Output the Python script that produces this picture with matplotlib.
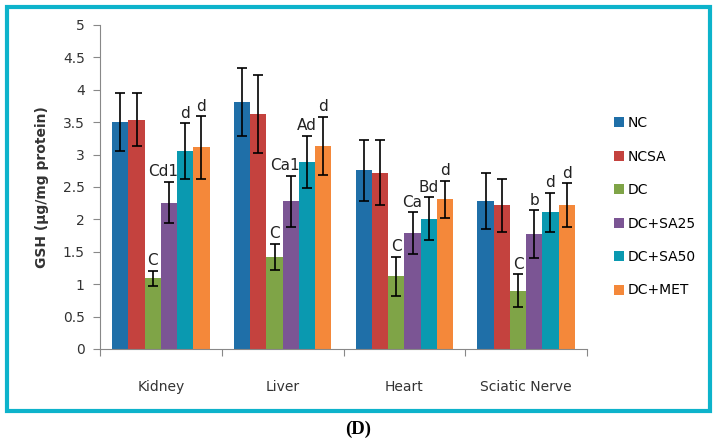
import matplotlib
matplotlib.use("Agg")
import matplotlib.pyplot as plt
import numpy as np
from matplotlib.patches import Rectangle

categories = ["Kidney", "Liver", "Heart", "Sciatic Nerve"]
series = ["NC", "NCSA", "DC", "DC+SA25", "DC+SA50", "DC+MET"]
values = {
    "NC":      [3.50, 3.81, 2.76, 2.28],
    "NCSA":    [3.54, 3.63, 2.72, 2.22],
    "DC":      [1.09, 1.42, 1.12, 0.90],
    "DC+SA25": [2.26, 2.28, 1.79, 1.77],
    "DC+SA50": [3.05, 2.89, 2.01, 2.11],
    "DC+MET":  [3.11, 3.13, 2.31, 2.22],
}
errors = {
    "NC":      [0.45, 0.52, 0.47, 0.43],
    "NCSA":    [0.41, 0.60, 0.50, 0.41],
    "DC":      [0.12, 0.20, 0.30, 0.25],
    "DC+SA25": [0.32, 0.39, 0.32, 0.37],
    "DC+SA50": [0.43, 0.40, 0.33, 0.30],
    "DC+MET":  [0.48, 0.45, 0.29, 0.34],
}
sig_labels = {
    "DC":      ["C", "C", "C", "C"],
    "DC+SA25": ["Cd1", "Ca1", "Ca", "b"],
    "DC+SA50": ["d", "Ad", "Bd", "d"],
    "DC+MET":  ["d", "d", "d", "d"],
}
colors = ["#1f6fa8", "#c4423e", "#7fa447", "#7b5594", "#0a99b0", "#f4883a"]
yticks = [0, 0.5, 1, 1.5, 2, 2.5, 3, 3.5, 4, 4.5, 5]
ytick_labels = ["0", "0.5", "1", "1.5", "2", "2.5", "3", "3.5", "4", "4.5", "5"]

fig = plt.figure(figsize=(7.17, 4.44), dpi=100)
ax = fig.add_axes([0.1395, 0.214, 0.8187 - 0.1395, 0.9437 - 0.214])

n = len(series)
bw = 0.8 / n
x = np.arange(len(categories))
for i, s in enumerate(series):
    pos = x + (i - (n - 1) / 2) * bw
    ax.bar(pos, values[s], width=bw, color=colors[i], label=s, zorder=2)
    ax.errorbar(pos, values[s], yerr=errors[s], fmt="none", ecolor="black",
                elinewidth=1.2, capsize=3.5, capthick=1.2, zorder=3)
    if s in sig_labels:
        for j, lab in enumerate(sig_labels[s]):
            top = values[s][j] + errors[s][j]
            dx = -0.05 if lab in ("Cd1", "Ca1") else 0
            ax.text(pos[j] + dx, top + 0.04, lab, ha="center", va="bottom",
                    fontsize=11, color="#222222", family="DejaVu Sans")

ax.set_xlim(-0.5, len(categories) - 0.5)
ax.set_ylim(0, 5)
ax.set_yticks(yticks)
ax.set_yticklabels(ytick_labels, fontsize=10, color="#333333")
ax.set_xticks(np.arange(len(categories) + 1) - 0.5)
ax.set_xticklabels([])
ax.set_xticks(x, minor=True)
ax.set_xticklabels(categories, minor=True, fontsize=10, color="#333333")
ax.tick_params(axis="x", which="minor", length=0, pad=22)
ax.tick_params(axis="x", which="major", length=5, color="#888888", direction="out")
ax.tick_params(axis="y", length=5, color="#888888", direction="out", pad=6)
for sp in ["top", "right"]:
    ax.spines[sp].set_visible(False)
for sp in ["left", "bottom"]:
    ax.spines[sp].set_color("#888888")
ax.set_ylabel("GSH (µg/mg protein)", fontsize=10, fontweight="bold", color="#333333", labelpad=10)

leg = ax.legend(loc="upper left", bbox_to_anchor=(1.03, 0.757), frameon=False,
                fontsize=10, handlelength=0.7, handleheight=0.75, handletextpad=0.3,
                labelspacing=1.4)

border = Rectangle((7 / 717, 1 - 411 / 444), (710 - 7) / 717, (411 - 7) / 444,
                   transform=fig.transFigure, fill=False, edgecolor="#0db3cb",
                   linewidth=3, zorder=10)
fig.patches.append(border)
fig.text(358 / 717, 1 - 429 / 444, "(D)", ha="center", va="center", fontsize=13.5,
         fontweight="bold", family="Liberation Serif")

fig.savefig("out.png", dpi=100)
